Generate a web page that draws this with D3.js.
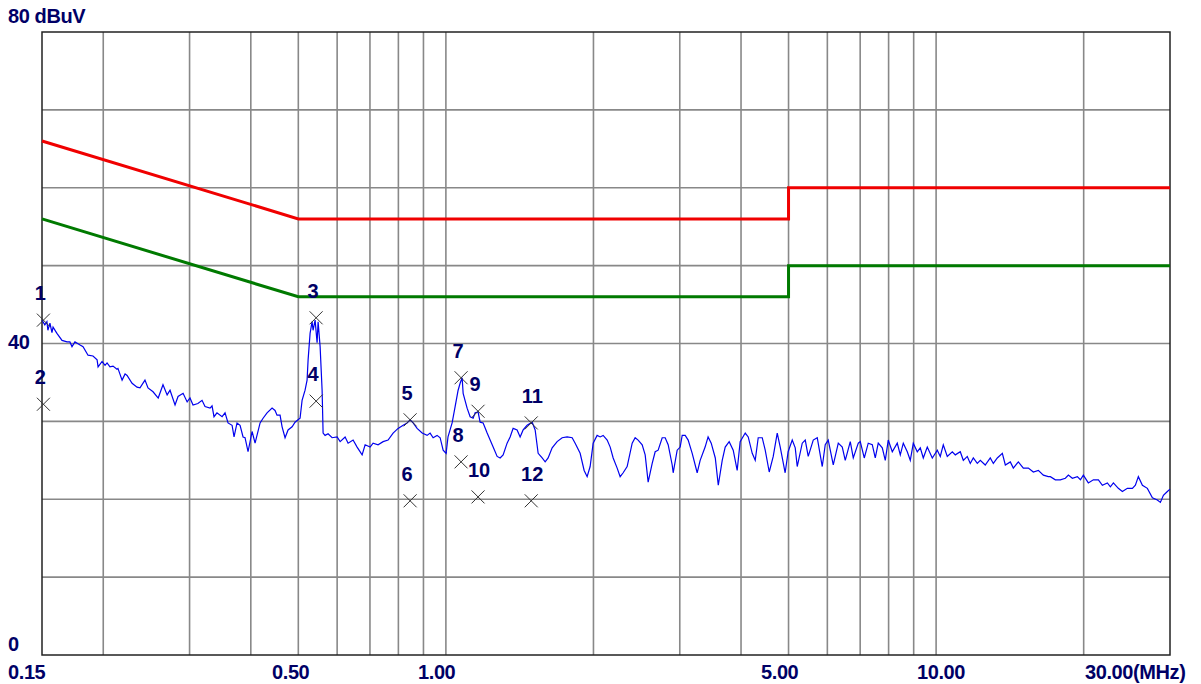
<!DOCTYPE html>
<html>
<script src="https://d3js.org/d3.v7.min.js"></script>
<style>
  body { margin: 0; background: #fff; }
  text { font-family: "Liberation Sans", Arial, sans-serif; font-weight: bold; fill: #000066; }
</style>
<body>
<svg id="chart" width="1201" height="684"></svg>
<script>
// measured trace (MHz / dBuV)
var freqMHz = [
  0.150, 0.152, 0.1535, 0.1542, 0.1557, 0.1572, 0.158, 0.1609, 0.1648, 0.1687,
  0.171, 0.1727, 0.1751, 0.1794, 0.1819, 0.1862, 0.1906, 0.1943, 0.1952, 0.1989,
  0.2017, 0.2036, 0.2064, 0.2094, 0.2133, 0.2143, 0.2185, 0.2216, 0.2237, 0.229,
  0.2344, 0.2377, 0.2433, 0.2468, 0.2527, 0.2589, 0.2648, 0.27, 0.2737, 0.2802,
  0.2842, 0.291, 0.2966, 0.3006, 0.3049, 0.312, 0.3181, 0.3226, 0.3303, 0.3334,
  0.3365, 0.3412, 0.3495, 0.3544, 0.3594, 0.3663, 0.3697, 0.3749, 0.3803, 0.3857,
  0.3893, 0.3948, 0.4024, 0.4081, 0.4178, 0.4237, 0.4317, 0.442, 0.4482, 0.4524,
  0.4589, 0.4633, 0.4698, 0.4765, 0.4856, 0.4924, 0.4993, 0.5041, 0.5089, 0.5161,
  0.521, 0.5235, 0.5284, 0.5334, 0.5359, 0.541, 0.5461, 0.5487, 0.5539, 0.5591,
  0.5617, 0.567, 0.575, 0.586, 0.5999, 0.6085, 0.6229, 0.6317, 0.6467, 0.659,
  0.6747, 0.6843, 0.7005, 0.7104, 0.7272, 0.7446, 0.7622, 0.7804, 0.7989, 0.818,
  0.8335, 0.8453, 0.8573, 0.8735, 0.8944, 0.9155, 0.9286, 0.9418, 0.9594, 0.9733,
  0.9871, 1.001, 1.010, 1.0297, 1.0443, 1.0591, 1.0691, 1.0793, 1.0844, 1.1048,
  1.1206, 1.1365, 1.1472, 1.1634, 1.1744, 1.1912, 1.2138, 1.231, 1.2485, 1.2721,
  1.2902, 1.3085, 1.3331, 1.3522, 1.3714, 1.3972, 1.4172, 1.4374, 1.4645, 1.4996,
  1.5208, 1.5424, 1.5717, 1.594, 1.6165, 1.6473, 1.6862, 1.7265, 1.7671, 1.8096,
  1.8352, 1.8787, 1.9144, 1.9415, 1.969, 1.9972, 2.0346, 2.064, 2.0933, 2.133,
  2.1635, 2.194, 2.2355, 2.2673, 2.2996, 2.3428, 2.3989, 2.4327, 2.467, 2.5143,
  2.5498, 2.5858, 2.6353, 2.6725, 2.7101, 2.7621, 2.8011, 2.8406, 2.8949, 2.9085,
  2.9633, 3.0054, 3.0342, 3.0771, 3.1205, 3.1802, 3.2553, 3.3013, 3.379, 3.4267,
  3.4773, 3.5444, 3.5946, 3.6617, 3.7134, 3.7833, 3.8558, 3.9282, 3.9837, 4.0796,
  4.1374, 4.216, 4.2758, 4.3362, 4.4188, 4.4812, 4.5666, 4.6532, 4.7413, 4.8087,
  4.9211, 4.9906, 5.0878, 5.1598, 5.2081, 5.3326, 5.4081, 5.4845, 5.6154, 5.7217,
  5.858, 5.9407, 6.0247, 6.1688, 6.3162, 6.4353, 6.5262, 6.6823, 6.7767, 6.9388,
  7.0031, 7.1357, 7.2704, 7.4095, 7.5141, 7.6204, 7.766, 7.8757, 7.9869, 8.1396,
  8.3319, 8.4514, 8.5714, 8.7335, 8.8576, 8.9836, 9.1534, 9.2834, 9.4158, 9.5939,
  9.8227, 10.056, 10.198, 10.343, 10.539, 10.791, 10.944, 11.202, 11.363, 11.577,
  11.741, 11.909, 12.134, 12.307, 12.595, 12.897, 13.084, 13.331, 13.649, 13.843,
  14.17, 14.372, 14.714, 15.064, 15.424, 15.789, 16.164, 16.548, 16.941, 17.101,
  17.509, 17.924, 18.352, 18.614, 18.964, 19.417, 19.694, 19.97, 20.443, 20.932,
  21.432, 21.836, 22.354, 22.672, 22.995, 23.535, 23.988, 24.555, 25.142, 25.498,
  25.857, 26.352, 26.974, 27.62, 28.27, 28.677, 29.086, 29.63, 30.0
];
var levelDb = [
  43.0, 42.4, 42.8, 41.7, 42.6, 41.4, 42.1, 41.3, 40.4, 40.2,
  40.2, 39.6, 40.2, 39.8, 39.6, 38.5, 38.4, 37.9, 37.0, 37.7,
  37.2, 37.5, 37.0, 37.1, 36.7, 36.8, 35.3, 36.1, 35.9, 34.9,
  34.4, 34.3, 35.3, 34.3, 33.8, 33.0, 34.7, 33.4, 34.0, 32.1,
  33.2, 33.6, 32.5, 33.0, 32.1, 32.3, 32.7, 31.9, 31.7, 32.0,
  30.6, 31.1, 30.6, 31.1, 29.8, 29.5, 28.0, 29.8, 29.5, 28.0,
  27.9, 26.1, 28.7, 27.2, 29.8, 30.4, 31.1, 31.7, 31.4, 30.8,
  30.8, 29.3, 27.9, 28.9, 29.3, 29.9, 30.2, 30.4, 32.7, 34.0,
  35.3, 37.9, 41.3, 42.8, 41.7, 43.0, 40.1, 42.8, 39.6, 34.0,
  28.5, 28.2, 28.4, 27.9, 28.0, 27.4, 28.0, 27.2, 27.6, 26.7,
  25.7, 27.0, 26.7, 27.2, 27.0, 27.4, 27.6, 28.5, 29.1, 29.5,
  29.8, 30.2, 29.8, 29.1, 28.5, 28.2, 28.5, 27.9, 28.2, 27.9,
  26.3, 25.9, 28.0, 29.8, 31.9, 34.0, 34.9, 35.6, 33.6, 31.7,
  30.6, 30.4, 31.1, 31.2, 29.9, 29.8, 28.5, 27.6, 26.7, 25.5,
  25.3, 25.7, 27.2, 28.0, 29.1, 28.9, 28.0, 28.9, 29.5, 29.9,
  28.9, 25.9, 25.3, 24.8, 25.3, 26.6, 27.4, 27.9, 28.0, 27.9,
  27.2, 25.9, 23.7, 22.9, 24.2, 27.2, 28.2, 28.0, 28.2, 27.6,
  26.7, 25.3, 24.0, 22.9, 23.4, 24.2, 27.2, 27.9, 27.6, 27.0,
  25.7, 22.2, 24.6, 26.1, 26.3, 27.9, 27.9, 27.0, 24.4, 23.4,
  26.3, 26.7, 28.2, 28.2, 27.6, 25.9, 23.4, 25.0, 26.7, 28.0,
  27.2, 25.3, 21.8, 25.0, 26.7, 27.4, 26.3, 23.7, 27.4, 28.5,
  28.0, 25.9, 25.0, 27.9, 27.9, 26.3, 23.5, 25.5, 28.5, 26.7,
  23.4, 26.1, 27.6, 26.6, 24.2, 27.2, 27.6, 25.5, 27.6, 27.9,
  24.2, 27.0, 27.6, 24.4, 27.2, 26.7, 25.0, 27.4, 25.3, 27.2,
  27.4, 25.3, 27.2, 27.0, 25.3, 27.2, 26.6, 25.0, 27.6, 26.1,
  27.2, 25.7, 27.2, 26.1, 25.0, 27.2, 26.1, 26.6, 25.3, 26.7,
  25.3, 26.3, 25.5, 27.0, 25.5, 26.1, 25.7, 26.1, 25.0, 25.5,
  24.6, 25.3, 24.6, 25.0, 24.4, 25.3, 24.6, 25.3, 25.9, 24.4,
  24.8, 24.0, 24.8, 24.0, 24.0, 23.5, 23.7, 23.1, 22.9, 22.9,
  22.5, 22.5, 22.7, 23.1, 22.7, 22.9, 22.5, 23.1, 22.1, 22.5,
  22.5, 21.8, 22.1, 21.6, 22.1, 21.4, 21.0, 21.4, 21.4, 21.8,
  22.9, 21.8, 21.4, 20.2, 19.9, 19.6, 20.5, 21.0, 21.3
];

// limit lines
var limitFreq = [0.15, 0.5, 5, 5, 30];
var qpLimit = [66, 56, 56, 60, 60];
var avLimit = [56, 46, 46, 50, 50];

// markers
var markerNo = ["1", "2", "3", "4", "5", "6", "7", "8", "9", "10", "11", "12"];
var markerFreq = [0.151, 0.151, 0.5436, 0.5436, 0.8453, 0.8453, 1.074, 1.074, 1.163, 1.163, 1.493, 1.493];
var markerDb = [43.0, 32.2, 43.3, 32.6, 30.2, 19.8, 35.6, 24.8, 31.3, 20.3, 29.8, 19.8];

// grid and tick labels
var xGrid = [0.2, 0.3, 0.4, 0.5, 0.6, 0.7, 0.8, 0.9, 1, 2, 3, 4, 5, 6, 7, 8, 9, 10, 20];
var yGrid = [10, 20, 30, 40, 50, 60, 70];
var xTickVals = [0.15, 0.5, 1, 5, 10, 30];
var xTickText = ["0.15", "0.50", "1.00", "5.00", "10.00", "30.00(MHz)"];
var yTickVals = [80, 40, 0];
var yTickText = ["80 dBuV", "40", "0"];

var svg = d3.select("#chart");
var x = d3.scaleLog().domain([0.15, 30]).range([42, 1170]);
var y = d3.scaleLinear().domain([0, 80]).range([655, 32]);

svg.append("rect").attr("width", 1201).attr("height", 684).attr("fill", "#fff");

//grid
svg.selectAll(".vg").data(xGrid).enter().append("line")
  .attr("x1", function(d) { return x(d); }).attr("x2", function(d) { return x(d); })
  .attr("y1", y(80)).attr("y2", y(0))
  .attr("stroke", "#888").attr("stroke-width", 1.6);
svg.selectAll(".hg").data(yGrid).enter().append("line")
  .attr("x1", x(0.15)).attr("x2", x(30))
  .attr("y1", function(d) { return y(d); }).attr("y2", function(d) { return y(d); })
  .attr("stroke", "#888").attr("stroke-width", 1.6);

//frame
svg.append("rect")
  .attr("x", x(0.15)).attr("y", y(80))
  .attr("width", x(30) - x(0.15)).attr("height", y(0) - y(80))
  .attr("fill", "none").attr("stroke", "#222").attr("stroke-width", 1.5);

//limits
var lim = function(vals) {
  return d3.line().x(function(d, i) { return x(limitFreq[i]); }).y(function(d) { return y(d); })(vals);
};
svg.append("path").attr("d", lim(qpLimit)).attr("fill", "none").attr("stroke", "#f00000").attr("stroke-width", 3);
svg.append("path").attr("d", lim(avLimit)).attr("fill", "none").attr("stroke", "#007a00").attr("stroke-width", 3);

//trace
var trace = d3.line()
  .x(function(d, i) { return x(freqMHz[i]); })
  .y(function(d) { return y(d); });
svg.append("path").attr("d", trace(levelDb))
  .attr("fill", "none").attr("stroke", "#0000ee").attr("stroke-width", 1.2);

//markers
markerNo.forEach(function(m, i) {
  var cx = x(markerFreq[i]), cy = y(markerDb[i]);
  svg.append("path")
    .attr("d", "M" + (cx - 6.5) + "," + (cy - 6.5) + "L" + (cx + 6.5) + "," + (cy + 6.5) +
               "M" + (cx - 6.5) + "," + (cy + 6.5) + "L" + (cx + 6.5) + "," + (cy - 6.5))
    .attr("stroke", "#333").attr("stroke-width", 1);
  svg.append("text")
    .attr("x", cx + (m.length > 1 ? 1 : -3)).attr("y", cy - 20)
    .attr("text-anchor", "middle")
    .style("font-size", "20px")
    .text(m);
});

//axis labels
var xLabelX = [8, 272, 418, 761, 917, 1085];
xTickVals.forEach(function(v, i) {
  svg.append("text")
    .attr("x", xLabelX[i]).attr("y", 679)
    .style("font-size", "20px")
    .style("letter-spacing", "-0.4px")
    .text(xTickText[i]);
});
var yLabelY = [23, 349, 651];
yTickVals.forEach(function(v, i) {
  svg.append("text")
    .attr("x", 8).attr("y", yLabelY[i])
    .style("font-size", "20px")
    .style("letter-spacing", "-0.4px")
    .text(yTickText[i]);
});
</script>
</body>
</html>
